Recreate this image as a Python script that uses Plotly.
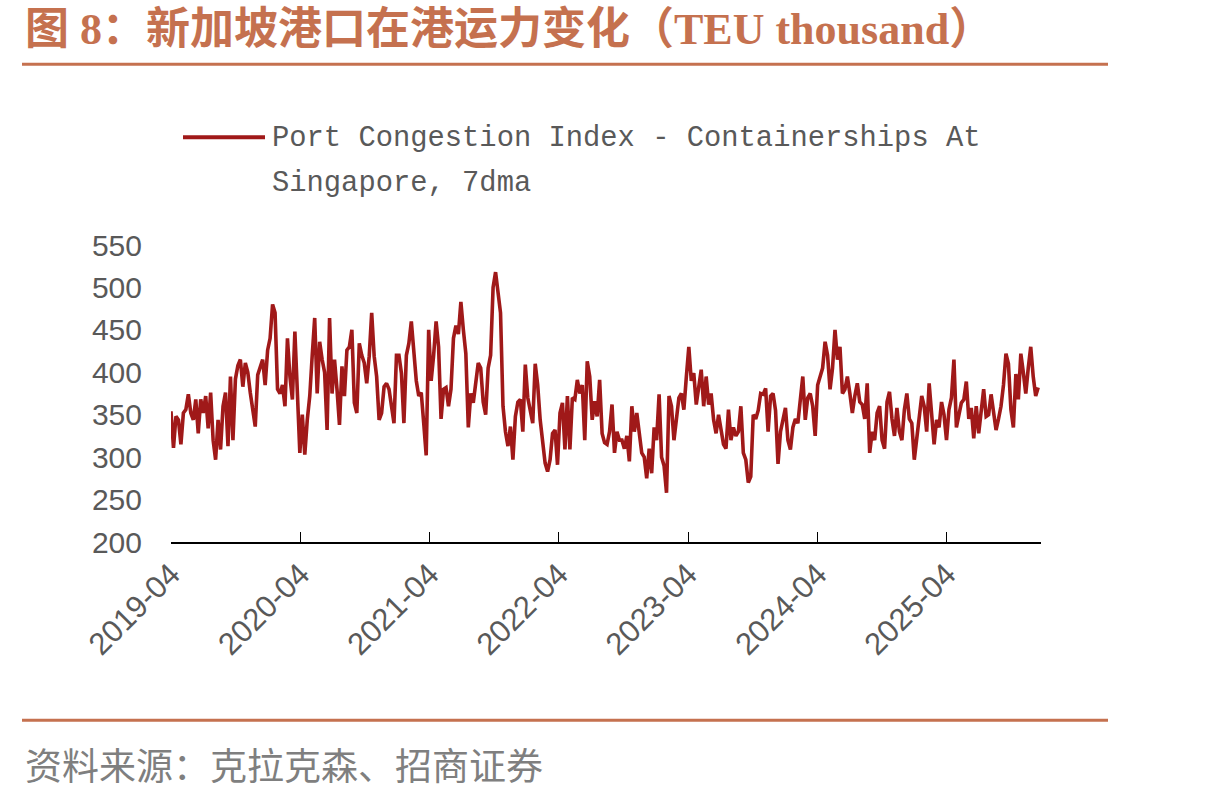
import pandas as pd
import plotly.graph_objects as go

# ---------------- data (weekly readings of the 7dma series) ----------------
start_date = "2019-04-01"
values = [
    354, 311, 348, 344, 315, 352, 356, 374, 352, 344,
    368, 328, 368, 352, 372, 334, 376, 320, 297, 344,
    309, 360, 376, 313, 395, 320, 392, 408, 415, 383,
    411, 400, 376, 356, 336, 397, 405, 415, 385, 426,
    440, 480, 470, 380, 375, 385, 360, 440, 395, 368,
    448, 380, 305, 350, 303, 344, 372, 420, 464, 375,
    436, 415, 400, 332, 464, 375, 415, 380, 338, 407,
    372, 426, 430, 450, 364, 352, 434, 420, 411, 387,
    419, 470, 419, 395, 344, 352, 383, 387, 380, 360,
    340, 420, 420, 399, 340, 420, 434, 460, 426, 390,
    372, 376, 340, 302, 450, 390, 420, 460, 430, 345,
    380, 382, 360, 380, 440, 455, 445, 483, 450, 422,
    335, 375, 364, 390, 411, 405, 365, 350, 405, 420,
    500, 518, 493, 470, 360, 330, 313, 336, 297, 348,
    365, 368, 330, 409, 370, 352, 340, 410, 385, 344,
    320, 293, 283, 297, 328, 332, 291, 352, 364, 309,
    372, 309, 370, 368, 391, 375, 385, 320, 413, 395,
    344, 366, 348, 391, 328, 317, 315, 330, 362, 305,
    330, 320, 320, 310, 325, 295, 360, 330, 352, 330,
    305, 300, 275, 310, 281, 335, 320, 374, 300, 290,
    258, 372, 360, 320, 344, 370, 375, 356, 395, 430,
    390, 399, 362, 380, 403, 360, 395, 362, 375, 344,
    328, 350, 330, 315, 310, 356, 320, 335, 325, 330,
    360, 305, 297, 270, 277, 350, 345, 355, 375, 374,
    381, 330, 372, 375, 355, 292, 330, 345, 358, 320,
    309, 335, 345, 340, 372, 395, 344, 370, 375, 360,
    325, 385, 395, 405, 436, 420, 380, 405, 450, 415,
    430, 375, 380, 395, 375, 352, 372, 387, 365, 362,
    345, 387, 305, 330, 320, 352, 360, 320, 310, 365,
    377, 345, 325, 358, 330, 320, 356, 375, 345, 340,
    297, 320, 345, 372, 360, 330, 387, 355, 315, 344,
    335, 365, 350, 320, 356, 370, 415, 335, 352, 364,
    368, 389, 345, 358, 322, 360, 328, 355, 380, 348,
    350, 374, 350, 332, 345, 360, 385, 422, 410, 356,
    335, 398, 368, 422, 400, 375, 405, 430, 395, 372,
    382,
]
dates = pd.date_range(start_date, periods=len(values), freq="7D")

tick_labels = ["2019-04", "2020-04", "2021-04", "2022-04", "2023-04", "2024-04", "2025-04"]
y_ticks = [200, 250, 300, 350, 400, 450, 500, 550]

series_name = "Port Congestion Index - Containerships At Singapore, 7dma"
title_text = "图 8：新加坡港口在港运力变化（TEU thousand）"
source_text = "资料来源：克拉克森、招商证券"

# ---------------- styling ----------------
W, H = 1217, 798
L, R, T, B = 171, 1041, 245, 542.5
LINE_COLOR = "#A01919"
ACCENT = "#C5714F"
GREY = "#595959"


def px(x):
    return (x - L) / (R - L)


def py(y):
    return (B - y) / (B - T)


fig = go.Figure()
fig.add_trace(go.Scatter(
    x=dates, y=values, mode="lines", name=series_name,
    line=dict(color=LINE_COLOR, width=3.6), showlegend=False,
))

fig.update_layout(
    width=W, height=H,
    margin=dict(l=L, r=W - R, t=T, b=H - B, pad=0),
    paper_bgcolor="white", plot_bgcolor="white",
    xaxis=dict(
        type="date",
        range=["2019-04-01", "2025-12-23"],
        tickvals=[t + "-01" for t in tick_labels],
        ticktext=tick_labels,
        tickangle=-45,
        showgrid=False, zeroline=False,
        showline=True, linecolor="#000000", linewidth=1.5,
        ticks="inside", ticklen=10, tickwidth=1.2, tickcolor="#000000",
        tickfont=dict(family="Liberation Sans, Arial", size=31, color=GREY),
    ),
    yaxis=dict(
        range=[200, 550],
        tickvals=y_ticks,
        showgrid=False, zeroline=False, showline=False,
        ticks="",
        ticklabelstandoff=28,
        tickfont=dict(family="Liberation Sans, Arial", size=30, color=GREY),
    ),
    shapes=[
        dict(type="line", xref="paper", yref="paper",
             x0=px(22), x1=px(1108), y0=py(64), y1=py(64),
             line=dict(color=ACCENT, width=3)),
        dict(type="line", xref="paper", yref="paper",
             x0=px(22), x1=px(1108), y0=py(721), y1=py(721),
             line=dict(color=ACCENT, width=3)),
        dict(type="line", xref="paper", yref="paper",
             x0=px(183), x1=px(265), y0=py(137), y1=py(137),
             line=dict(color=LINE_COLOR, width=4)),
    ],
    annotations=[
        dict(xref="paper", yref="paper", x=px(23), y=py(29),
             xanchor="left", yanchor="middle", showarrow=False,
             text="<b>" + title_text + "</b>",
             font=dict(family="Liberation Serif, Noto Sans CJK SC", size=44, color=ACCENT)),
        dict(xref="paper", yref="paper", x=px(270), y=py(138),
             xanchor="left", yanchor="middle", showarrow=False,
             text="Port Congestion Index - Containerships At",
             font=dict(family="Liberation Mono", size=28.8, color=GREY)),
        dict(xref="paper", yref="paper", x=px(270), y=py(183),
             xanchor="left", yanchor="middle", showarrow=False,
             text="Singapore, 7dma",
             font=dict(family="Liberation Mono", size=28.8, color=GREY)),
        dict(xref="paper", yref="paper", x=px(23), y=py(765),
             xanchor="left", yanchor="middle", showarrow=False,
             text=source_text,
             font=dict(family="Noto Sans CJK SC", size=37, color="#7F7F7F")),
    ],
)

fig.write_html("out.html")
